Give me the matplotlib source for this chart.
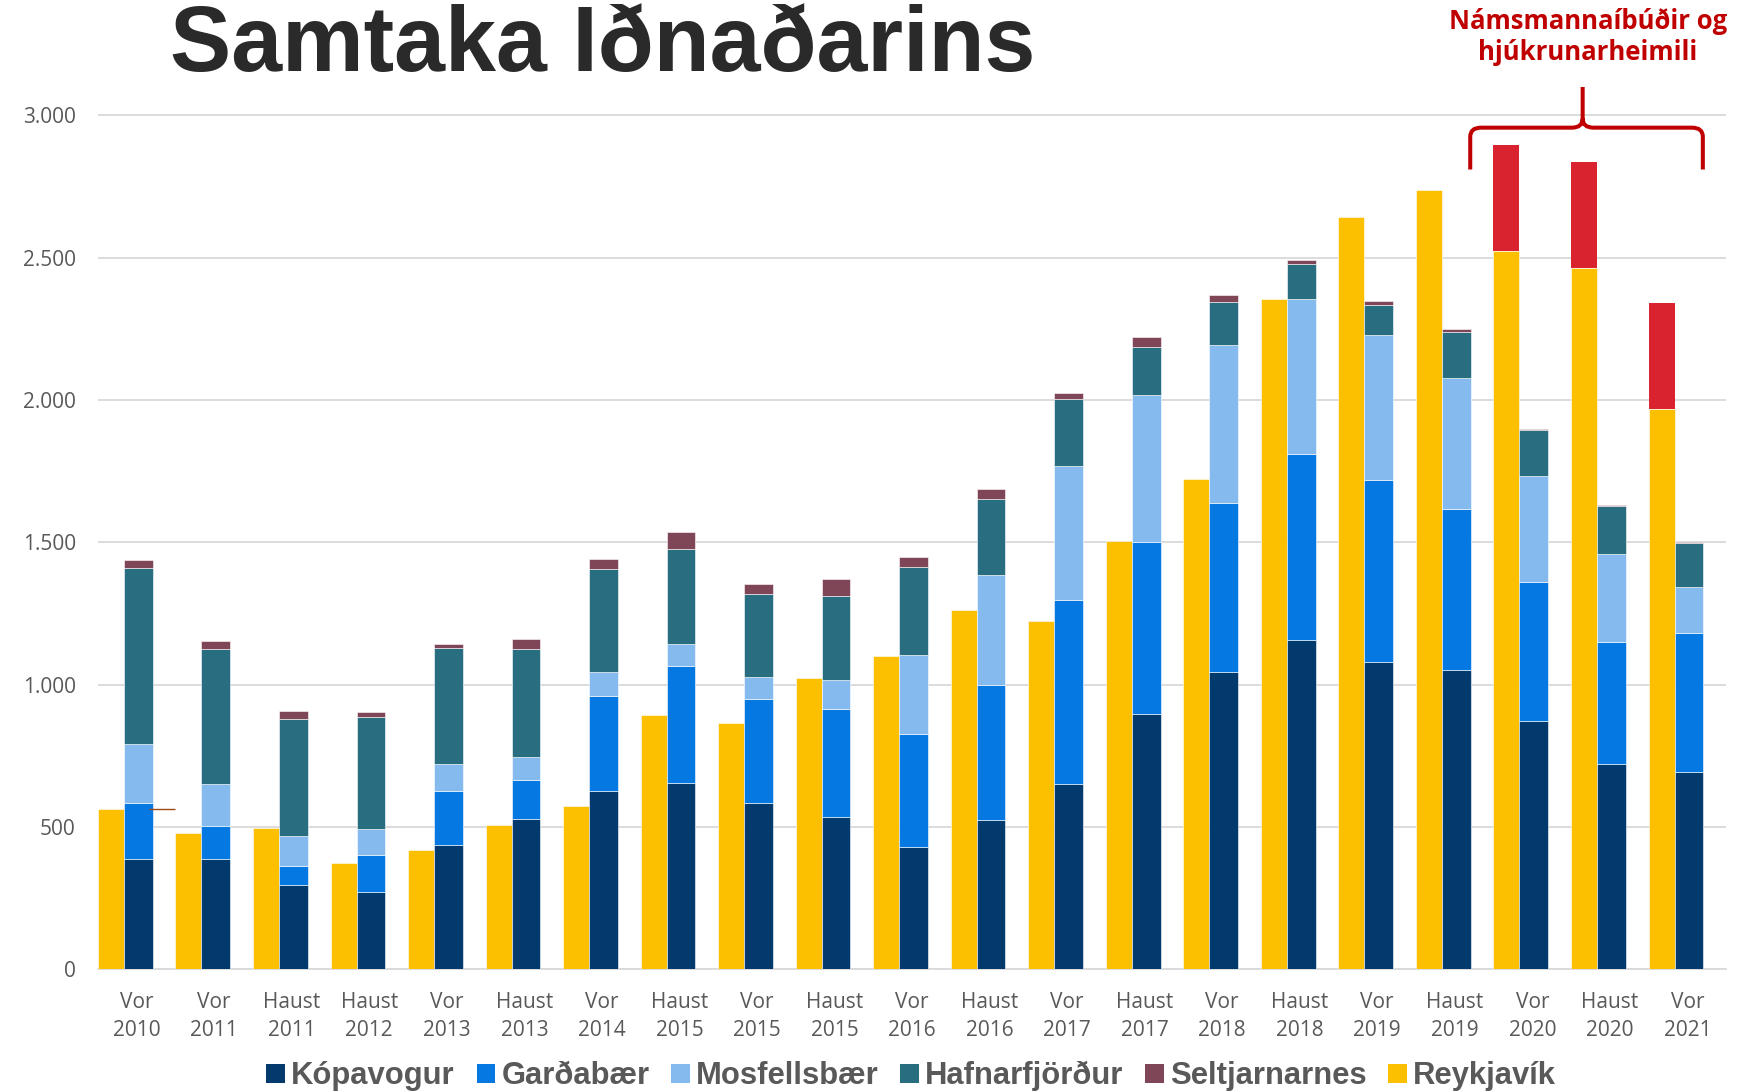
import matplotlib.pyplot as plt
from matplotlib.patches import Patch, PathPatch
from matplotlib.path import Path
from matplotlib.ticker import FuncFormatter
import numpy as np

# gögn lesin af myndinni
labels = ["Vor\n2010", "Vor\n2011", "Haust\n2011", "Haust\n2012", "Vor\n2013", "Haust\n2013",
          "Vor\n2014", "Haust\n2015", "Vor\n2015", "Haust\n2015", "Vor\n2016", "Haust\n2016",
          "Vor\n2017", "Haust\n2017", "Vor\n2018", "Haust\n2018", "Vor\n2019", "Haust\n2019",
          "Vor\n2020", "Haust\n2020", "Vor\n2021"]
kopavogur = [387, 387, 296, 273, 435, 529, 628, 656, 586, 534, 431, 523, 652, 896, 1046, 1158, 1081, 1052, 873, 720, 693]
gardabaer = [199, 117, 66, 129, 192, 136, 332, 411, 364, 380, 394, 475, 644, 607, 594, 651, 639, 566, 486, 429, 488]
mosfellsbaer = [205, 146, 105, 92, 93, 82, 84, 77, 76, 104, 280, 389, 471, 515, 553, 545, 510, 461, 375, 310, 161]
hafnarfjordur = [618, 474, 411, 393, 410, 377, 362, 333, 291, 295, 308, 267, 236, 169, 150, 123, 104, 160, 162, 168, 156]
seltjarnarnes = [29, 31, 30, 16, 12, 37, 35, 59, 38, 60, 37, 35, 21, 34, 25, 14, 14, 12, 4, 4, 4]
reykjavik = [562, 479, 498, 372, 419, 506, 574, 894, 864, 1024, 1102, 1262, 1224, 1506, 1722, 2354, 2643, 2737, 2525, 2465, 1969]
namsmenn = [0] * 18 + [371, 371, 371]

series = [("Kópavogur", kopavogur, "#023a6e"),
          ("Garðabær", gardabaer, "#0578e1"),
          ("Mosfellsbær", mosfellsbaer, "#84baee"),
          ("Hafnarfjörður", hafnarfjordur, "#296e80"),
          ("Seltjarnarnes", seltjarnarnes, "#7f4658")]
gul = "#fdc000"
raud = "#d9232f"
grar = "#595959"

fig = plt.figure(figsize=(17.49, 10.91), dpi=100)
ax = fig.add_axes([0.056, 0.11155, 0.9309, 0.7957])

x = np.arange(len(labels))
w_gul = 0.335
w_stafl = 0.37

ax.bar(x - 0.5, reykjavik, width=w_gul, align='edge', color=gul, edgecolor='white', linewidth=0.4, zorder=3)
ax.bar(x - 0.5, namsmenn, width=w_gul, bottom=reykjavik, align='edge', color=raud, linewidth=0, zorder=3)

botn = np.zeros(len(labels))
for nafn, gildi, litur in series:
    ax.bar(x - 0.5 + w_gul, gildi, width=w_stafl, bottom=botn, align='edge',
           color=litur, edgecolor='white', linewidth=0.4, zorder=3)
    botn += np.array(gildi)

# lítil lína við fyrstu súlu
ax.hlines(reykjavik[0], 0.16, 0.49, color='#9a4a10', linewidth=1, zorder=4)

ax.set_xlim(-0.5, 20.5)
ax.set_ylim(0, 3050)
ax.set_yticks(np.arange(0, 3001, 500))
ax.yaxis.set_major_formatter(FuncFormatter(lambda v, p: f"{int(v):,}".replace(",", ".")))
ax.set_xticks(x)
ax.set_xticklabels(labels, linespacing=1.45)
ax.grid(axis='y', color='#d9d9d9', linewidth=1.3, zorder=0)
for s in ['top', 'right', 'left']:
    ax.spines[s].set_visible(False)
ax.spines['bottom'].set_color('#d9d9d9')
ax.spines['bottom'].set_linewidth(1.3)
ax.tick_params(axis='y', length=0, pad=16, labelsize=15, labelcolor=grar)
ax.tick_params(axis='x', length=0, pad=16, labelsize=15, labelcolor=grar)
for t in ax.get_xticklabels() + ax.get_yticklabels():
    t.set_fontfamily('Open Sans')

# sveigur yfir síðustu súlunum
x0, x1, xc = 17.2, 20.2, 18.65
y_end, y_bar, y_tip = 2810, 2957, 3100
rx, ry = 0.14, 32
verts = [(x0, y_end), (x0, y_bar - ry), (x0, y_bar), (x0 + rx, y_bar),
         (xc - rx, y_bar), (xc, y_bar), (xc, y_bar + ry), (xc, y_tip),
         (xc, y_bar + ry), (xc, y_bar), (xc + rx, y_bar),
         (x1 - rx, y_bar), (x1, y_bar), (x1, y_bar - ry), (x1, y_end)]
codes = [Path.MOVETO, Path.LINETO, Path.CURVE3, Path.CURVE3,
         Path.LINETO, Path.CURVE3, Path.CURVE3, Path.LINETO,
         Path.MOVETO, Path.CURVE3, Path.CURVE3,
         Path.LINETO, Path.CURVE3, Path.CURVE3, Path.LINETO]
ax.add_patch(PathPatch(Path(verts, codes), facecolor='none', edgecolor='#c00000',
                       linewidth=2.9, clip_on=False, zorder=5))

fig.text(0.908, 0.993, "Námsmannaíbúðir og\nhjúkrunarheimili", ha='center', va='top',
         fontsize=18.5, fontweight='bold', color='#c00000', family='Open Sans', linespacing=1.2)

fig.text(0.0972, 0.9345, "Samtaka Iðnaðarins", ha='left', va='baseline',
         fontsize=66, fontweight='bold', color='#2a2a2a', family='Liberation Sans')

handles = [Patch(facecolor=c, label=n) for n, _, c in series] + [Patch(facecolor=gul, label="Reykjavík")]
leg = fig.legend(handles=handles, loc='center', bbox_to_anchor=(0.521, 0.0135), ncol=6, frameon=False,
                 handlelength=0.6, handleheight=0.6, handletextpad=0.2, columnspacing=0.7,
                 prop={'family': 'Liberation Sans', 'weight': 'bold', 'size': 22.3})
for t in leg.get_texts():
    t.set_color(grar)

plt.savefig("out.png", dpi=100)
